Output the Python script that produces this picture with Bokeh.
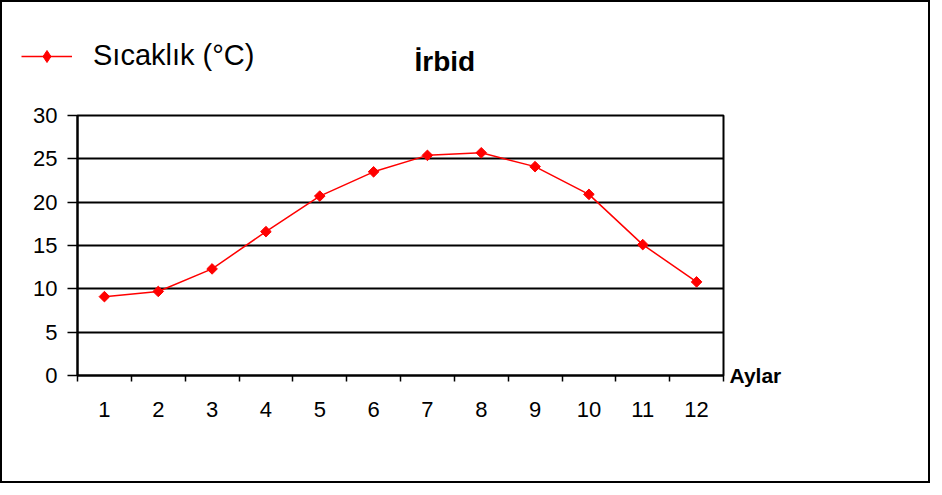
from bokeh.plotting import figure
from bokeh.models import (Range1d, FixedTicker, Legend, LegendItem, LinearAxis, Label)
from bokeh.layouts import column
from bokeh.embed import file_html
from bokeh.resources import INLINE
import math

months = [1, 2, 3, 4, 5, 6, 7, 8, 9, 10, 11, 12]
temps = [9.1, 9.7, 12.3, 16.6, 20.7, 23.5, 25.4, 25.7, 24.1, 20.9, 15.1, 10.8]
y_ticks = [0, 5, 10, 15, 20, 25, 30]
series_name = "Sıcaklık (°C)"
title_text = "İrbid"
x_title = "Aylar"

FONT = "Liberation Sans"
RED = "#FF0000"
W = 926
TOP_H = 95

# ---------------- main chart ----------------
p = figure(width=W, height=384, output_backend="svg", toolbar_location=None,
           x_range=Range1d(0.5, 12.5), y_range=Range1d(0, 30),
           min_border_left=75, min_border_right=205,
           min_border_top=18, min_border_bottom=106)
p.frame_align = False
p.background_fill_color = "white"
p.border_fill_color = "white"
p.outline_line_color = "black"
p.outline_line_width = 2

p.xgrid.visible = False
p.ygrid.grid_line_color = "black"
p.ygrid.grid_line_width = 2
p.ygrid.ticker = FixedTicker(ticks=y_ticks)

boundaries = [m - 0.5 for m in months] + [months[-1] + 0.5]
xa = p.xaxis[0]
xa.ticker = FixedTicker(ticks=months, minor_ticks=boundaries)
xa.axis_line_color = "black"
xa.axis_line_width = 2
xa.major_tick_in = 0
xa.major_tick_out = 0
xa.minor_tick_in = 0
xa.minor_tick_out = 6
xa.minor_tick_line_color = "black"
xa.minor_tick_line_width = 1.5
xa.major_label_text_font = FONT
xa.major_label_text_font_size = "22px"
xa.major_label_text_color = "black"
xa.major_label_standoff = 20

ya = p.yaxis[0]
ya.ticker = FixedTicker(ticks=y_ticks)
ya.axis_line_color = "black"
ya.axis_line_width = 2
ya.major_tick_in = 0
ya.major_tick_out = 10
ya.major_tick_line_color = "black"
ya.major_tick_line_width = 1.5
ya.minor_tick_out = 0
ya.minor_tick_in = 0
ya.major_label_text_font = FONT
ya.major_label_text_font_size = "22px"
ya.major_label_text_color = "black"
ya.major_label_standoff = 10

# "Aylar" shown as a label of a right-hand axis at the x-axis level
ra = LinearAxis(ticker=FixedTicker(ticks=[0]), major_label_overrides={0: x_title})
ra.axis_line_color = None
ra.major_tick_line_color = None
ra.minor_tick_line_color = None
ra.major_tick_out = 0
ra.major_tick_in = 0
ra.major_label_standoff = 6
ra.major_label_text_font = FONT
ra.major_label_text_font_size = "21px"
ra.major_label_text_font_style = "bold"
ra.major_label_text_color = "black"
p.add_layout(ra, "right")

p.line(months, temps, line_color=RED, line_width=1.5)
p.scatter(months, temps, marker="square", angle=math.pi / 4, size=7.5,
          fill_color=RED, line_color=RED)

# ---------------- header: legend + title ----------------
h = figure(width=W, height=TOP_H, output_backend="svg", toolbar_location=None,
           x_range=Range1d(0.5, 12.5), y_range=Range1d(100, 200),
           x_axis_type=None, y_axis_type=None,
           min_border_left=0, min_border_right=0, min_border_top=0, min_border_bottom=0)
h.frame_align = False
h.outline_line_color = None
h.xgrid.visible = False
h.ygrid.visible = False
h.background_fill_color = "white"
h.border_fill_color = "white"
# same series (outside this header's visible range) used only as legend key
hl = h.line(months, temps, line_color=RED, line_width=1.5)
hm = h.scatter(months, temps, marker="diamond", size=12,
               fill_color=RED, line_color=RED)

legend = Legend(items=[LegendItem(label=series_name, renderers=[hl, hm])],
                location=(19, 25), padding=0, margin=0, spacing=0,
                border_line_color=None, background_fill_alpha=0,
                label_text_font=FONT, label_text_font_size="29px",
                label_text_color="black",
                glyph_width=51, glyph_height=30, label_standoff=21)
h.add_layout(legend, "center")

title_lbl = Label(x=412, y=36, x_units="screen", y_units="screen", text=title_text,
                  text_font=FONT, text_font_size="28px", text_font_style="bold",
                  text_color="black", text_align="left", text_baseline="alphabetic")
h.add_layout(title_lbl)

layout = column(h, p, spacing=0, styles={"border": "2px solid black"})

open("out.html", "w").write(file_html(layout, INLINE))
